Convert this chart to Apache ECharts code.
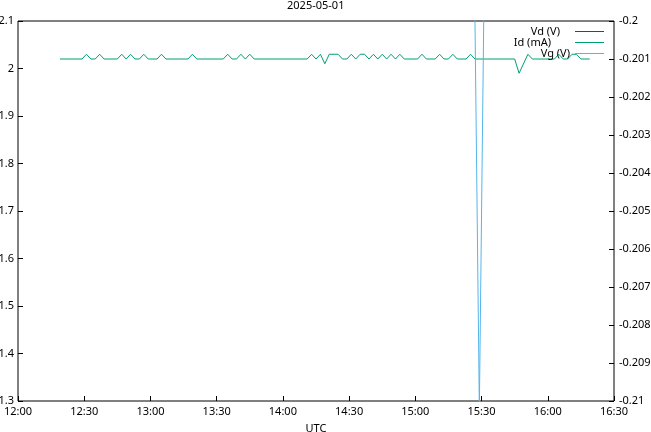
<!DOCTYPE html>
<html>
<head>
<meta charset="utf-8">
<script src="https://cdn.jsdelivr.net/npm/echarts@6/dist/echarts.min.js"></script>
<style>
html,body{margin:0;padding:0;background:#fff;}
#chart{width:651px;height:432px;}
</style>
</head>
<body>
<div id="chart"></div>
<script>
// ---- data ----
var titleText = '2025-05-01';
var xTickLabels = ['12:00','12:30','13:00','13:30','14:00','14:30','15:00','15:30','16:00','16:30'];
var seriesNames = ['Vd (V)', 'Id (mA)', 'Vg (V)'];

// Vd (V): not visible inside the plotted ranges
var vdTimes = [];
var vdValues = [];

// Id (mA): vertices of the green line (left axis)
var idTimes = ['12:19','12:29','12:31','12:33','12:35','12:37','12:39','12:45','12:47','12:49','12:51','12:53',
  '12:55','12:57','12:59','13:03','13:05','13:07','13:17','13:19','13:21','13:33','13:35','13:37','13:39',
  '13:41','13:43','13:45','13:47','14:11','14:13','14:15','14:17','14:19','14:21','14:25','14:27','14:29',
  '14:31','14:33','14:35','14:37','14:39','14:41','14:43','14:45','14:47','14:49','14:51','14:53','14:55',
  '15:01','15:03','15:05','15:09','15:11','15:13','15:15','15:17','15:19','15:23','15:25','15:27','15:45',
  '15:47','15:51','15:53','16:03','16:05','16:07','16:09','16:11','16:13','16:15','16:19'];
var idValues = [2.02,2.02,2.03,2.02,2.02,2.03,2.02,2.02,2.03,2.02,2.03,2.02,
  2.02,2.03,2.02,2.02,2.03,2.02,2.02,2.03,2.02,2.02,2.03,2.02,2.02,
  2.03,2.02,2.03,2.02,2.02,2.03,2.02,2.03,2.01,2.03,2.03,2.02,2.02,
  2.03,2.02,2.03,2.03,2.02,2.03,2.02,2.03,2.02,2.03,2.02,2.03,2.02,
  2.02,2.03,2.02,2.02,2.03,2.02,2.02,2.03,2.02,2.02,2.03,2.02,2.02,
  1.99,2.03,2.02,2.02,2.03,2.02,2.02,2.03,2.03,2.02,2.02];

// Vg (V): right axis; normally just above the top of the range, one dip below the bottom
var vgTimes = ['12:19','15:27','15:29','15:31','16:19'];
var vgValues = [-0.1999,-0.1999,-0.2102,-0.1999,-0.1999];

// ---- build ----
function toMin(s){ var p = s.split(':'); return (parseInt(p[0],10) - 12) * 60 + parseInt(p[1],10); }
function pairs(ts, vs){ return ts.map(function(t,i){ return [toMin(t), vs[i]]; }); }

var FONT = 'Noto Sans';
var colors = ['#9400d3', '#009e73', '#56b4e9'];

var chart = echarts.init(document.getElementById('chart'), null, {renderer:'canvas'});

function legendFor(i, top, pad){
  return {
    data: [seriesNames[i]],
    right: 47, top: top, padding: 0,
    orient: 'vertical', align: 'right',
    icon: 'rect', itemWidth: 29, itemHeight: 1,
    selectedMode: false,
    textStyle: {fontFamily: FONT, fontSize: 11, color: '#000', padding: [0, pad, 0, 0]}
  };
}

var tickStyle = {show: true, inside: true, length: 5, lineStyle: {color: '#000', width: 1}};
var labelStyle = {fontFamily: FONT, fontSize: 11, color: '#000'};

chart.setOption({
  animation: false,
  backgroundColor: '#fff',
  color: colors,
  title: {
    text: titleText, left: 287, top: 0, padding: 0,
    textStyle: {fontFamily: FONT, fontSize: 11, fontWeight: 'normal', color: '#000'}
  },
  legend: [legendFor(0, 26, 10), legendFor(1, 37, 19), legendFor(2, 48, 0)],
  grid: {
    left: 18, right: 37, top: 21, bottom: 31,
    containLabel: false, outerBoundsMode: 'none',
    show: true, borderColor: '#000', borderWidth: 1, backgroundColor: 'transparent'
  },
  xAxis: {
    type: 'value', min: 0, max: 270, interval: 30,
    name: 'UTC', nameLocation: 'middle', nameGap: 22,
    nameTextStyle: labelStyle,
    axisLine: {show: false},
    axisTick: tickStyle,
    splitLine: {show: false},
    axisLabel: Object.assign({margin: 5, formatter: function(v){ return xTickLabels[Math.round(v/30)] || ''; }}, labelStyle)
  },
  yAxis: [{
    type: 'value', min: 1.3, max: 2.1, interval: 0.1,
    axisLine: {show: false},
    axisTick: tickStyle,
    splitLine: {show: false},
    axisLabel: Object.assign({margin: 4}, labelStyle)
  }, {
    type: 'value', min: -0.21, max: -0.2, interval: 0.001,
    position: 'right',
    axisLine: {show: false},
    axisTick: tickStyle,
    splitLine: {show: false},
    axisLabel: Object.assign({margin: 5}, labelStyle)
  }],
  series: [{
    name: seriesNames[0], type: 'line', yAxisIndex: 0, showSymbol: false, symbol: 'none',
    clip: true, lineStyle: {width: 1, color: colors[0]}, itemStyle: {color: colors[0]},
    data: pairs(vdTimes, vdValues)
  }, {
    name: seriesNames[1], type: 'line', yAxisIndex: 0, showSymbol: false, symbol: 'none',
    clip: true, lineStyle: {width: 1, color: colors[1]}, itemStyle: {color: colors[1]},
    data: pairs(idTimes, idValues)
  }, {
    name: seriesNames[2], type: 'line', yAxisIndex: 1, showSymbol: false, symbol: 'none',
    clip: true, lineStyle: {width: 1, color: colors[2]}, itemStyle: {color: colors[2]},
    data: pairs(vgTimes, vgValues)
  }]
});
</script>
</body>
</html>
